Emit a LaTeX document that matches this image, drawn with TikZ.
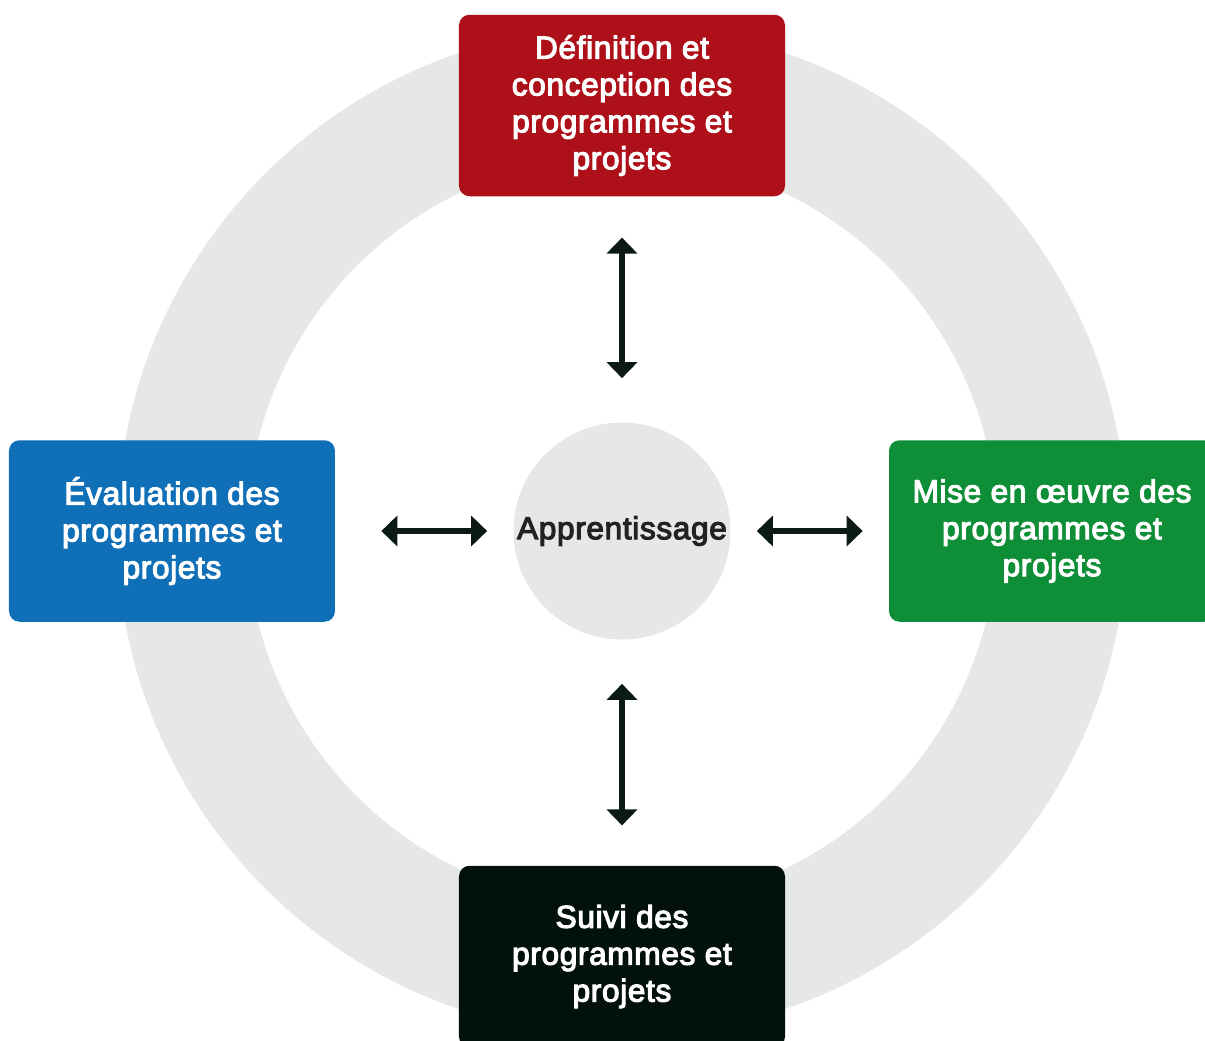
\documentclass[tikz,border=0pt]{standalone}
\usepackage{fontspec}
\setmainfont{Liberation Sans}
\newfontfamily\mediumfont{Liberation Sans}[FakeBold=3.5, LetterSpace=2]
\usetikzlibrary{arrows.meta}
\definecolor{ringGrey}{HTML}{E6E7E7}
\definecolor{phaseRed}{HTML}{AD1019}
\definecolor{phaseBlue}{HTML}{0F6FB7}
\definecolor{phaseGreen}{HTML}{0F8E38}
\definecolor{phaseBlack}{HTML}{03110C}
\definecolor{arrowDark}{HTML}{0B1A14}
\definecolor{textDark}{HTML}{222222}

\begin{document}
\begin{tikzpicture}[
    phase/.style={rectangle, rounded corners=6pt, minimum width=6.52cm, minimum height=3.63cm,
        align=center, text=white, inner sep=4pt, font=\mediumfont\fontsize{18}{21}\selectfont},
    hub/.style={circle, fill=ringGrey, minimum size=4.34cm, inner sep=0pt, text=textDark,
        font=\mediumfont\fontsize{18}{21}\selectfont},
    link/.style={draw=arrowDark, line width=3.2pt,
        {Triangle[length=0.32cm, width=0.6cm]}-{Triangle[length=0.32cm, width=0.6cm]}},
]
\clip (-12.44,-10.18) rectangle (11.66,10.62);
\fill[ringGrey, even odd rule] (0,0) circle (10.1cm) (0,0) circle (7.5cm);
\node[hub] (learn) at (0,0) {Apprentissage};
\node[phase, fill=phaseRed]   (design)   at (0,  8.51) {Définition et\\conception des\\programmes et\\projets};
\node[phase, fill=phaseBlue]  (evaluate) at (-9.0,  0) {Évaluation des\\programmes et\\projets};
\node[phase, fill=phaseGreen] (deliver)  at (8.6,   0) {Mise en œuvre des\\programmes et\\projets};
\node[phase, fill=phaseBlack] (monitor)  at (0, -8.51) {Suivi des\\programmes et\\projets};
\draw[link, shorten <=0.82cm, shorten >=0.88cm] (design)   -- (learn);
\draw[link, shorten <=0.80cm, shorten >=0.88cm] (monitor)  -- (learn);
\draw[link, shorten <=0.92cm, shorten >=0.52cm] (evaluate) -- (learn);
\draw[link, shorten <=0.52cm, shorten >=0.52cm] (deliver)  -- (learn);
\end{tikzpicture}
\end{document}
